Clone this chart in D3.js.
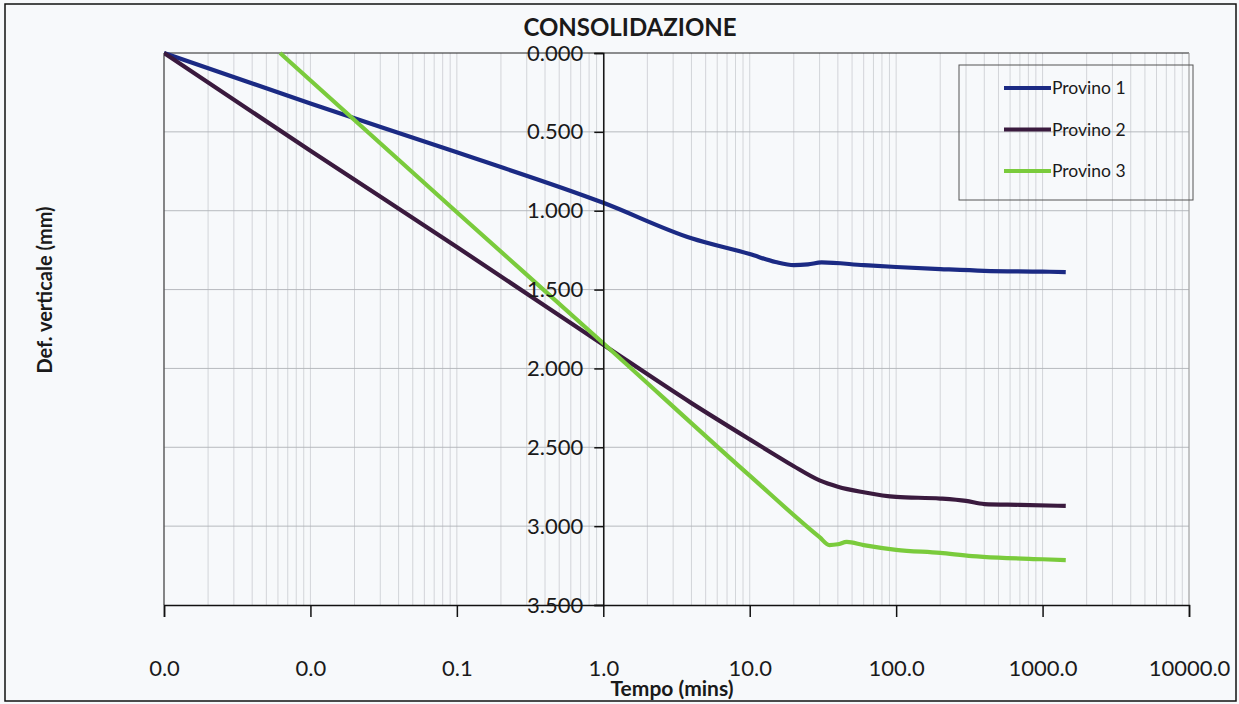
<!DOCTYPE html>
<html>
<head>
<meta charset="utf-8">
<script src="https://cdn.jsdelivr.net/npm/d3@7"></script>
<style>
  html, body { margin: 0; padding: 0; background: #f7f9fb; }
  svg { display: block; }
  text { font-family: Lato, "Open Sans", "DejaVu Sans", sans-serif; fill: #1a1a1a; }
</style>
</head>
<body>
<svg id="chart" width="1239" height="704"></svg>
<script>
// Consolidation test: vertical deformation (mm) vs time (mins, log scale)
const seriesNames = ["Provino 1", "Provino 2", "Provino 3"];
const seriesColors = ["#1b2a84", "#3a1a3e", "#7acb3c"];

const timeP1 = [0.001, 0.01, 0.1, 1, 4, 10, 15, 20, 25, 31, 60, 100, 200, 400, 1000, 1440];
const defP1  = [0.000, 0.32, 0.63, 0.95, 1.175, 1.275, 1.325, 1.345, 1.34, 1.328, 1.345, 1.357, 1.37, 1.381, 1.386, 1.389];

const timeP2 = [0.001, 0.01, 0.1, 1, 4, 10, 15, 20, 30, 40, 60, 100, 200, 300, 400, 700, 1440];
const defP2  = [0.000, 0.62, 1.23, 1.85, 2.22, 2.45, 2.55, 2.62, 2.71, 2.75, 2.785, 2.815, 2.825, 2.84, 2.86, 2.865, 2.872];

const timeP3 = [0.0062, 0.1, 1, 10, 30, 35, 40, 46, 60, 100, 200, 330, 500, 1000, 1440];
const defP3  = [0.000, 1.01, 1.84, 2.68, 3.07, 3.12, 3.115, 3.10, 3.12, 3.15, 3.17, 3.19, 3.20, 3.21, 3.215];

const xTicks = [0.001, 0.01, 0.1, 1, 10, 100, 1000, 10000];
const yTicks = [0, 0.5, 1, 1.5, 2, 2.5, 3, 3.5];

const chartTitle = "CONSOLIDAZIONE";
const xTitle = "Tempo (mins)";
const yTitle = "Def. verticale (mm)";

const series = [
  { name: seriesNames[0], color: seriesColors[0], t: timeP1, d: defP1 },
  { name: seriesNames[1], color: seriesColors[1], t: timeP2, d: defP2 },
  { name: seriesNames[2], color: seriesColors[2], t: timeP3, d: defP3 }
];

const svg = d3.select("#chart");
const W = 1239, H = 704;
const plot = { left: 164, right: 1189, top: 53, bottom: 605 };

const x = d3.scaleLog().domain([0.001, 10000]).range([plot.left, plot.right]);
const y = d3.scaleLinear().domain([0, 3.5]).range([plot.top, plot.bottom]);

// page background and outer frame
svg.append("rect").attr("x", 0).attr("y", 0).attr("width", W).attr("height", H).attr("fill", "#f7f9fb");
svg.append("rect").attr("x", 5).attr("y", 4).attr("width", 1231).attr("height", 697)
  .attr("fill", "none").attr("stroke", "#111").attr("stroke-width", 1.5);

// minor vertical gridlines (2..9 in each decade) and decade lines
const minor = [];
for (let k = -3; k < 4; k++) {
  for (let m = 1; m <= 9; m++) minor.push(m * Math.pow(10, k));
}
minor.push(10000);
const grid = svg.append("g");
grid.selectAll("line.v").data(minor).join("line")
  .attr("class", "v")
  .attr("x1", d => x(d)).attr("x2", d => x(d))
  .attr("y1", plot.top).attr("y2", plot.bottom)
  .attr("stroke", "#c9ccd1").attr("stroke-width", 0.8);

grid.selectAll("line.h").data(yTicks.slice(1, -1)).join("line")
  .attr("class", "h")
  .attr("x1", plot.left).attr("x2", plot.right)
  .attr("y1", d => y(d)).attr("y2", d => y(d))
  .attr("stroke", "#b0b3b8").attr("stroke-width", 0.9);

// plot frame: top and left dark, right light
svg.append("line").attr("x1", plot.left).attr("x2", plot.right).attr("y1", plot.top).attr("y2", plot.top)
  .attr("stroke", "#222").attr("stroke-width", 1.2);
svg.append("line").attr("x1", plot.left).attr("x2", plot.left).attr("y1", plot.top).attr("y2", plot.bottom)
  .attr("stroke", "#444").attr("stroke-width", 1.2);
svg.append("line").attr("x1", plot.right).attr("x2", plot.right).attr("y1", plot.top).attr("y2", plot.bottom)
  .attr("stroke", "#a0a0a0").attr("stroke-width", 1);

// series lines
svg.append("clipPath").attr("id", "plotclip").append("rect")
  .attr("x", plot.left).attr("y", plot.top - 2)
  .attr("width", plot.right - plot.left).attr("height", plot.bottom - plot.top + 2);

const line = d3.line().curve(d3.curveMonotoneX)
  .x(p => x(p[0])).y(p => y(p[1]));

svg.append("g").attr("clip-path", "url(#plotclip)")
  .selectAll("path").data(series).join("path")
  .attr("d", s => line(s.t.map((t, i) => [t, s.d[i]])))
  .attr("fill", "none")
  .attr("stroke", s => s.color)
  .attr("stroke-width", 4.2)
  .attr("stroke-linejoin", "round");

// x axis (bottom)
const xAxis = d3.axisBottom(x).tickValues(xTicks).tickFormat(d3.format(".1f")).tickSize(12).tickPadding(43);
const gx = svg.append("g").attr("transform", `translate(0,${plot.bottom})`).call(xAxis);
gx.select(".domain").attr("stroke", "#111").attr("stroke-width", 1.5);
gx.selectAll(".tick line").attr("stroke", "#111").attr("stroke-width", 1.5);
gx.selectAll(".tick text").attr("font-size", 22).attr("fill", "#1a1a1a")
  .attr("font-family", "Lato, 'Open Sans', sans-serif");

// y axis crossing at t = 1
const yAxis = d3.axisLeft(y).tickValues(yTicks).tickFormat(d3.format(".3f")).tickSize(9).tickPadding(11);
const gy = svg.append("g").attr("transform", `translate(${x(1)},0)`).call(yAxis);
gy.select(".domain").attr("stroke", "#111").attr("stroke-width", 1.5);
gy.selectAll(".tick line").attr("stroke", "#111").attr("stroke-width", 1.5);
gy.selectAll(".tick text").attr("font-size", 22).attr("fill", "#1a1a1a")
  .attr("font-family", "Lato, 'Open Sans', sans-serif");

// titles
svg.append("text").attr("x", 630).attr("y", 36).attr("text-anchor", "middle")
  .attr("font-size", 24).attr("font-weight", "bold").text(chartTitle);
svg.append("text").attr("x", 672).attr("y", 696).attr("text-anchor", "middle")
  .attr("font-size", 21).attr("font-weight", "bold").text(xTitle);
svg.append("text").attr("transform", "translate(52,290) rotate(-90)").attr("text-anchor", "middle")
  .attr("font-size", 20).attr("font-weight", "bold").text(yTitle);

// legend
const lg = svg.append("g");
lg.append("rect").attr("x", 959).attr("y", 65).attr("width", 234).attr("height", 135)
  .attr("fill", "none").attr("stroke", "#555").attr("stroke-width", 1);
const rows = lg.selectAll("g.row").data(series).join("g")
  .attr("class", "row")
  .attr("transform", (s, i) => `translate(0,${88 + i * 41.5})`);
rows.append("line").attr("x1", 1004).attr("x2", 1051).attr("y1", 0).attr("y2", 0)
  .attr("stroke", s => s.color).attr("stroke-width", 4);
rows.append("text").attr("x", 1052).attr("y", 6).attr("font-size", 17.5).text(s => s.name);
</script>
</body>
</html>
